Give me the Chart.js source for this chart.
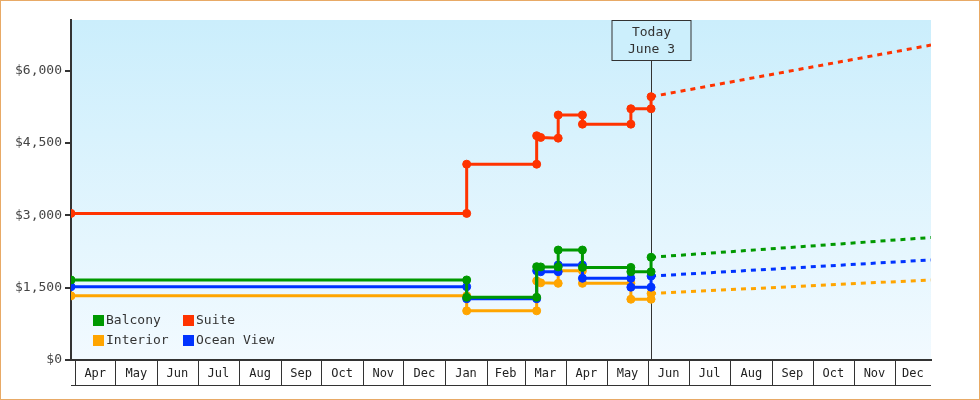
<!DOCTYPE html>
<html>
<head>
<meta charset="utf-8">
<title>Cabin prices</title>
<script src="https://cdn.jsdelivr.net/npm/chart.js@4.4.0/dist/chart.umd.min.js"></script>
<style>
  html, body { margin: 0; padding: 0; background: #fff; }
  #wrap { width: 980px; height: 400px; }
</style>
</head>
<body>
<div id="wrap"><canvas id="chart" width="980" height="400"></canvas></div>
<script>
// --- Data ---
// price change dates (each change has a before/after point on the same day)
const dates = [
  "2024-03-29", "2025-01-17", "2025-01-17", "2025-03-10", "2025-03-10",
  "2025-03-13", "2025-03-26", "2025-03-26", "2025-04-13", "2025-04-13",
  "2025-05-19", "2025-05-19", "2025-06-03", "2025-06-03",
];
const balcony = [1660, 1660, 1300, 1300, 1935, 1930, 1930, 2280, 2280, 1920, 1920, 1830, 1830, 2130];
const suite = [3040, 3040, 4060, 4060, 4650, 4615, 4600, 5080, 5080, 4890, 4890, 5210, 5210, 5460];
const interior = [1330, 1330, 1020, 1020, 1640, 1600, 1590, 1850, 1850, 1590, 1590, 1260, 1260, 1380];
const oceanView = [1520, 1520, 1270, 1270, 1850, 1830, 1830, 1970, 1970, 1695, 1695, 1510, 1510, 1740];

// forecast from today to the end of the axis
const forecastDates = ["2025-06-03", "2025-12-28"];
const balconyForecast = [2130, 2540];
const suiteForecast = [5460, 6530];
const interiorForecast = [1380, 1660];
const oceanViewForecast = [1740, 2075];

const monthLabels = [
  "Apr", "May", "Jun", "Jul", "Aug", "Sep", "Oct", "Nov", "Dec",
  "Jan", "Feb", "Mar", "Apr", "May", "Jun", "Jul", "Aug", "Sep", "Oct", "Nov", "Dec",
];
const firstMonth = [2024, 4]; // Apr 2024
const today = "2025-06-03";
const todayLabel = ["Today", "June 3"];
const yTicks = [0, 1500, 3000, 4500, 6000];

// --- Utilities ---
const BASE = Date.UTC(2024, 3, 1);
const dayNum = (s) => {
  const [y, m, d] = s.split("-").map(Number);
  return (Date.UTC(y, m - 1, d) - BASE) / 864e5;
};
const monthStart = (i) => {
  const y = firstMonth[0], m = firstMonth[1] - 1 + i;
  return (Date.UTC(y, m, 1) - BASE) / 864e5;
};
const pts = (xs, ys) => xs.map((x, i) => ({ x: dayNum(x), y: ys[i] }));
const money = (v) => "$" + v.toLocaleString("en-US");

const FONT = "13px 'DejaVu Sans Mono', monospace";
const MONTH_FONT = "12px 'DejaVu Sans Mono', monospace";
const colors = {
  balcony: "#009900",
  suite: "#ff3300",
  interior: "#ffa500",
  oceanView: "#0033ff",
};

function solid(label, data, color, order) {
  return {
    label,
    data,
    borderColor: color,
    backgroundColor: color,
    borderWidth: 3,
    pointRadius: 4,
    pointBorderWidth: 1,
    pointStyle: "circle",
    tension: 0,
    order,
  };
}
function dashed(label, data, color, order) {
  return {
    label,
    data,
    borderColor: color,
    borderWidth: 3,
    borderDash: [5, 5],
    pointRadius: 0,
    tension: 0,
    order,
  };
}

// --- Plugins ---
const background = {
  id: "background",
  beforeDraw(c) {
    const { ctx, chartArea: a } = c;
    ctx.save();
    ctx.fillStyle = "#fff";
    ctx.fillRect(0, 0, c.width, c.height);
    const g = ctx.createLinearGradient(0, a.top, 0, a.bottom);
    g.addColorStop(0, "#cbeefc");
    g.addColorStop(1, "#f2faff");
    ctx.fillStyle = g;
    ctx.fillRect(a.left, a.top, a.right - a.left, a.bottom - a.top);
    ctx.strokeStyle = "#e8aa66";
    ctx.lineWidth = 1;
    ctx.strokeRect(0.5, 0.5, c.width - 1, c.height - 1);
    ctx.restore();
  },
};

const todayLine = {
  id: "todayLine",
  beforeDatasetsDraw(c) {
    const { ctx, chartArea: a } = c;
    const x = Math.round(c.scales.x.getPixelForValue(dayNum(today))) + 0.5;
    const boxTop = a.top + 0.5, boxH = 40, boxW = 79;
    ctx.save();
    ctx.strokeStyle = "#333";
    ctx.lineWidth = 1;
    ctx.beginPath();
    ctx.moveTo(x, boxTop + boxH);
    ctx.lineTo(x, a.bottom);
    ctx.stroke();
    ctx.fillStyle = "#cceffc";
    ctx.fillRect(x - 39.5, boxTop, boxW, boxH);
    ctx.strokeRect(x - 39.5, boxTop, boxW, boxH);
    ctx.fillStyle = "#333";
    ctx.font = FONT;
    ctx.textAlign = "center";
    ctx.textBaseline = "middle";
    ctx.fillText(todayLabel[0], x, boxTop + 12);
    ctx.fillText(todayLabel[1], x, boxTop + 29);
    ctx.restore();
  },
};

const monthCells = {
  id: "monthCells",
  afterDraw(c) {
    const { ctx, chartArea: a } = c;
    const sx = c.scales.x;
    const top = a.bottom + 1, bottom = a.bottom + 25.5;
    ctx.save();
    ctx.strokeStyle = "#333";
    ctx.lineWidth = 1;
    ctx.fillStyle = "#222";
    ctx.font = MONTH_FONT;
    ctx.textAlign = "center";
    ctx.textBaseline = "middle";
    monthLabels.forEach((lab, i) => {
      const p0 = sx.getPixelForValue(monthStart(i));
      const p1 = sx.getPixelForValue(monthStart(i + 1));
      const l = Math.max(p0, a.left), r = Math.min(p1, a.right);
      if (p0 >= a.left) {
        const xx = Math.round(p0) + 0.5;
        ctx.beginPath();
        ctx.moveTo(xx, top);
        ctx.lineTo(xx, bottom);
        ctx.stroke();
      }
      ctx.fillText(lab, (l + r) / 2, a.bottom + 14);
    });
    ctx.beginPath();
    ctx.moveTo(a.left, bottom);
    ctx.lineTo(a.right, bottom);
    ctx.stroke();
    ctx.restore();
  },
};

const legendBox = {
  id: "legendBox",
  afterDatasetsDraw(c) {
    const { ctx, chartArea: a } = c;
    const items = [
      ["Balcony", colors.balcony, 0, 0],
      ["Suite", colors.suite, 1, 0],
      ["Interior", colors.interior, 0, 1],
      ["Ocean View", colors.oceanView, 1, 1],
    ];
    ctx.save();
    ctx.font = FONT;
    ctx.textBaseline = "middle";
    ctx.textAlign = "left";
    items.forEach(([lab, col, cx, cy]) => {
      const x = a.left + 22 + cx * 90;
      const y = a.bottom - 45 + cy * 20;
      ctx.fillStyle = col;
      ctx.fillRect(x, y, 11, 11);
      ctx.fillStyle = "#333";
      ctx.fillText(lab, x + 13, y + 6);
    });
    ctx.restore();
  },
};

// --- Chart ---
new Chart(document.getElementById("chart").getContext("2d"), {
  type: "line",
  data: {
    datasets: [
      solid("Suite", pts(dates, suite), colors.suite, 0),
      solid("Balcony", pts(dates, balcony), colors.balcony, 1),
      solid("Ocean View", pts(dates, oceanView), colors.oceanView, 2),
      solid("Interior", pts(dates, interior), colors.interior, 3),
      dashed("Suite forecast", pts(forecastDates, suiteForecast), colors.suite, 4),
      dashed("Balcony forecast", pts(forecastDates, balconyForecast), colors.balcony, 5),
      dashed("Ocean View forecast", pts(forecastDates, oceanViewForecast), colors.oceanView, 6),
      dashed("Interior forecast", pts(forecastDates, interiorForecast), colors.interior, 7),
    ],
  },
  options: {
    responsive: false,
    animation: false,
    layout: { padding: { top: 20, right: 49, bottom: 14, left: 0 } },
    plugins: { legend: { display: false }, tooltip: { enabled: false } },
    scales: {
      x: {
        type: "linear",
        min: dayNum("2024-03-29"),
        max: dayNum("2025-12-28"),
        ticks: { display: false },
        grid: { display: false },
        border: { display: true, color: "#333", width: 2 },
        afterFit: (s) => { s.height = 26; },
      },
      y: {
        min: 0,
        max: 7050,
        afterBuildTicks: (s) => { s.ticks = yTicks.map((v) => ({ value: v })); },
        afterFit: (s) => { s.width = 71; },
        ticks: {
          padding: 3,
          color: "#444",
          font: { family: "'DejaVu Sans Mono', monospace", size: 13 },
          callback: (v) => money(v),
        },
        grid: { drawOnChartArea: false, tickLength: 6, color: "#333", lineWidth: 2 },
        border: { color: "#333", width: 2 },
      },
    },
  },
  plugins: [background, todayLine, monthCells, legendBox],
});
</script>
</body>
</html>
